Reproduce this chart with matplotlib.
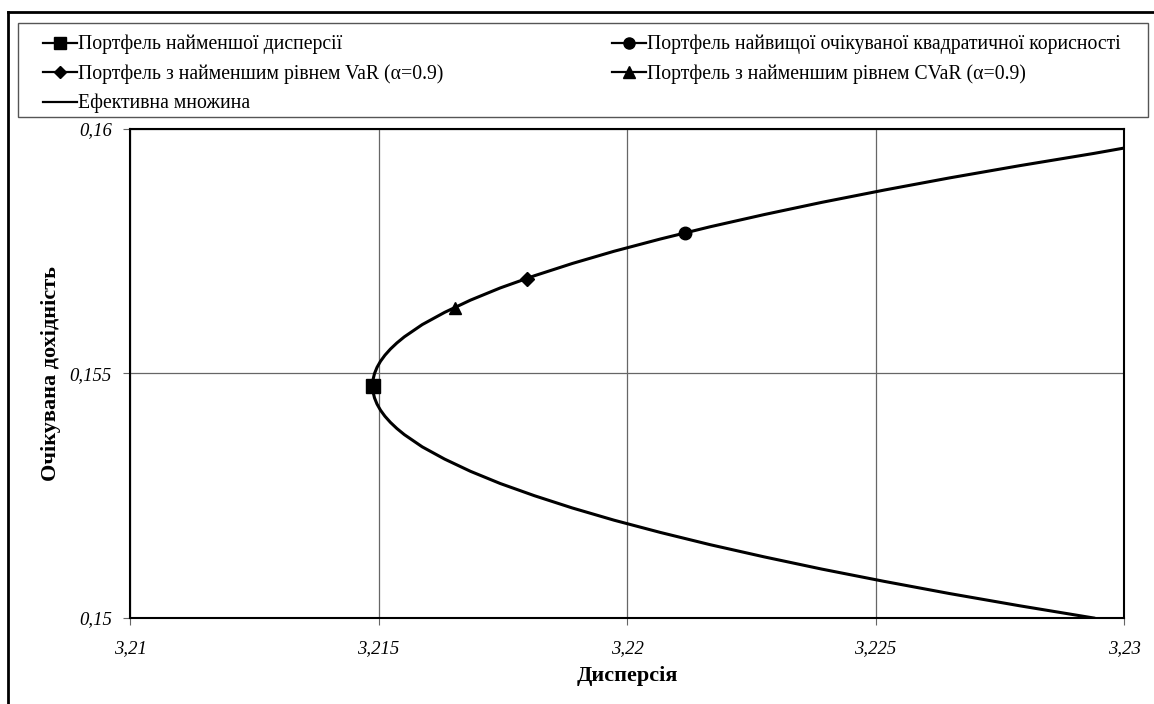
import matplotlib.pyplot as plt
from matplotlib.lines import Line2D
from matplotlib.patches import Rectangle

plt.rcParams['font.family'] = ['Liberation Serif', 'DejaVu Serif']

# efficient frontier (variance, expected return)
frontier_var = [3.22939, 3.22790, 3.22649, 3.22517, 3.22392, 3.22276, 3.22167,
                3.22067, 3.21974, 3.21890, 3.21814, 3.21745, 3.21685, 3.21633,
                3.21588, 3.21552, 3.21537, 3.21524, 3.21513, 3.21504, 3.21497,
                3.21492, 3.21489, 3.21488,
                3.21489, 3.21492, 3.21497, 3.21504, 3.21513, 3.21524, 3.21537,
                3.21552, 3.21588, 3.21633, 3.21685, 3.21745, 3.21814, 3.21890,
                3.21974, 3.22067, 3.22167, 3.22276, 3.22392, 3.22517, 3.22649,
                3.22790, 3.22939, 3.23000]
frontier_ret = [0.150000, 0.150250, 0.150500, 0.150750, 0.151000, 0.151250, 0.151500,
                0.151750, 0.152000, 0.152250, 0.152500, 0.152750, 0.153000, 0.153250,
                0.153500, 0.153750, 0.153875, 0.154000, 0.154125, 0.154250, 0.154375,
                0.154500, 0.154625, 0.154750,
                0.154875, 0.155000, 0.155125, 0.155250, 0.155375, 0.155500, 0.155625,
                0.155750, 0.156000, 0.156250, 0.156500, 0.156750, 0.157000, 0.157250,
                0.157500, 0.157750, 0.158000, 0.158250, 0.158500, 0.158750, 0.159000,
                0.159250, 0.159500, 0.159610]

# special portfolios
minvar_pt = (3.21489, 0.15475)
utility_pt = (3.22117, 0.15787)
var_pt = (3.21799, 0.15693)
cvar_pt = (3.21654, 0.15633)

labels_left = ['Портфель найменшої дисперсії',
               'Портфель з найменшим рівнем VaR (α=0.9)',
               'Ефективна множина']
labels_right = ['Портфель найвищої очікуваної квадратичної корисності',
                'Портфель з найменшим рівнем CVaR (α=0.9)']

x_ticks = [3.21, 3.215, 3.22, 3.225, 3.23]
x_ticklabels = ['3,21', '3,215', '3,22', '3,225', '3,23']
y_ticks = [0.15, 0.155, 0.16]
y_ticklabels = ['0,15', '0,155', '0,16']

W, H = 1154, 704
fig = plt.figure(figsize=(W / 100, H / 100), dpi=100)
ax = fig.add_axes([130 / W, 1 - 618 / H, (1124 - 130) / W, (618 - 129) / H])

ax.plot(frontier_var, frontier_ret, color='black', lw=2.2, zorder=3,
        solid_joinstyle='round')
ax.plot(*minvar_pt, marker='s', color='black', ms=9.5, ls='none', zorder=4)
ax.plot(*utility_pt, marker='o', color='black', ms=9, ls='none', zorder=4)
ax.plot(*var_pt, marker='D', color='black', ms=7.5, ls='none', zorder=4)
ax.plot(*cvar_pt, marker='^', color='black', ms=9, ls='none', zorder=4)

ax.set_xlim(3.21, 3.23)
ax.set_ylim(0.15, 0.16)
ax.set_xticks(x_ticks)
ax.set_xticklabels(x_ticklabels, fontsize=13.5, style='italic')
ax.set_yticks(y_ticks)
ax.set_yticklabels(y_ticklabels, fontsize=13.5, style='italic')
ax.tick_params(direction='out', length=5, color='#666666')
ax.tick_params(axis='x', pad=11)
ax.tick_params(axis='y', pad=8)
ax.grid(True, color='#666666', lw=0.9)
for s in ax.spines.values():
    s.set_linewidth(1.5)
ax.set_xlabel('Дисперсія', fontsize=16, fontweight='bold', labelpad=6)
ax.set_ylabel('Очікувана дохідність', fontsize=16, fontweight='bold', labelpad=6)


# legend handles: line with marker
def h(marker, size):
    return Line2D([], [], color='black', lw=1.6, marker=marker, ms=size)


leg_font = {'family': 'Liberation Serif', 'size': 14.2}
kw = dict(loc='upper left', frameon=False, prop=leg_font, handlelength=1.73,
          handletextpad=0.06, labelspacing=0.5, borderpad=0, borderaxespad=0)
fig.legend([h('s', 8), h('D', 6.5), h('', 0)], labels_left,
           bbox_to_anchor=(43 / W, 1 - 35 / H), **kw)
fig.legend([h('o', 8), h('^', 8)], labels_right,
           bbox_to_anchor=(612 / W, 1 - 35 / H), **kw)
fig.add_artist(Rectangle((18 / W, 1 - 117 / H), (1148 - 18) / W, (117 - 23) / H,
                         transform=fig.transFigure, fill=False,
                         edgecolor='#555555', lw=1.0))

# outer chart area border (left and top visible)
fig.add_artist(Line2D([8 / W, 8 / W], [0, 1 - 12 / H], color='black', lw=2,
                      transform=fig.transFigure))
fig.add_artist(Line2D([8 / W, 1], [1 - 12 / H, 1 - 12 / H], color='black', lw=2,
                      transform=fig.transFigure))

fig.savefig('out.png', dpi=100)
